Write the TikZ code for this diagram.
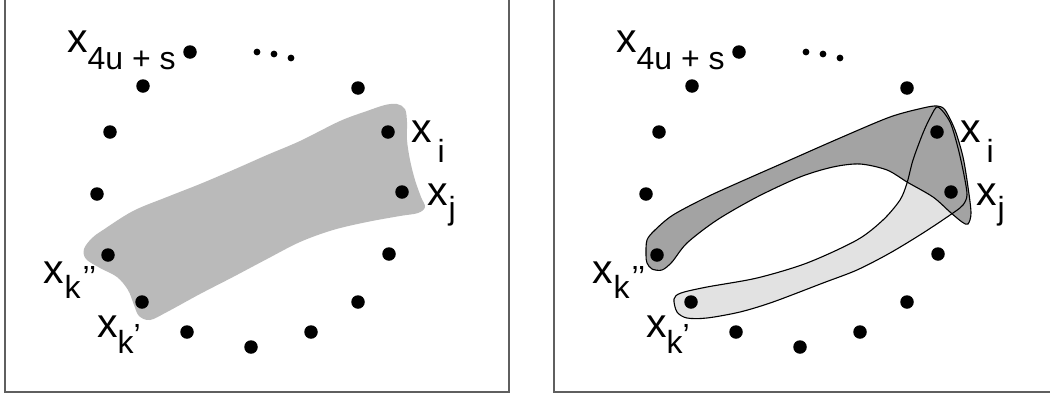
\documentclass[tikz,border=0pt]{standalone}
\usepackage{fontspec}
\setmainfont{Liberation Sans}
\usepackage{tikz}
\usetikzlibrary{positioning}

\definecolor{blobgray}{RGB}{186,186,186}
\definecolor{darkband}{RGB}{163,163,163}
\definecolor{lightband}{RGB}{226,226,226}
\definecolor{framegray}{RGB}{95,95,95}
\newcommand\subsz{\fontsize{32}{32}\selectfont}

\begin{document}
\begin{tikzpicture}[
  x=1pt, y=-1pt,
  dot/.style={circle, fill=black, inner sep=0pt, minimum size=13.5pt},
  smalldot/.style={circle, fill=black, inner sep=0pt, minimum size=6.8pt},
  lab/.style={anchor=base west, inner sep=0pt, font=\fontsize{41}{41}\selectfont},
  frame/.style={draw=framegray, line width=2pt},
  band/.style={draw=black, line width=1.1pt},
]
\useasboundingbox (0,0) rectangle (1050,394);
\clip (0,0) rectangle (1050,394);
% Frames
\draw[frame] (5,-5) -- (5,392) -- (509,392) -- (509,-5);
\draw[frame] (554,-5) -- (554,392) -- (1058,392) -- (1058,-5);
% Left: one hyperedge
\fill[blobgray] plot[smooth cycle, tension=0.55] coordinates {
  (397,104) (405,109) (407,122) (407,140) (410,160) (415,180) (421,197) (425,207)
  (418,213) (400,216) (367,222) (333,230) (300,242) (267,259) (233,277) (200,294)
  (167,312) (150,320) (139,316) (134,305) (128,290) (117,277) (100,268) (86,259)
  (84,249) (92,238) (103,230) (133,211) (167,197) (200,184) (233,170) (267,155)
  (300,141) (340,121) (367,111) (385,105)};
% Right: two overlapping hyperedges
\fill[lightband] plot[smooth cycle, tension=0.5] coordinates {
  (938,107) (950,122) (958,148) (964,175) (967,195) (963,205) (953,213) (923,233)
  (890,253) (857,270) (823,283) (773,302) (740,312) (707,318) (687,318) (677,312)
  (674,299) (681,293) (707,287) (757,278) (807,263) (857,240) (883,220) (900,200)
  (907,183) (913,160) (923,133) (931,116)};
\fill[darkband] plot[smooth cycle, tension=0.5] coordinates {
  (646,255) (647,240) (655,230) (673,215) (707,197) (740,182) (790,160) (840,138)
  (890,117) (923,108) (937,106) (945,110) (955,130) (963,157) (968,187) (971,213)
  (968,224) (962,222) (950,212) (933,197) (907,182) (887,170) (860,164) (833,167)
  (800,177) (757,197) (717,220) (687,243) (672,262) (662,270) (652,269) (647,263)};
\draw[band] plot[smooth cycle, tension=0.5] coordinates {
  (938,107) (950,122) (958,148) (964,175) (967,195) (963,205) (953,213) (923,233)
  (890,253) (857,270) (823,283) (773,302) (740,312) (707,318) (687,318) (677,312)
  (674,299) (681,293) (707,287) (757,278) (807,263) (857,240) (883,220) (900,200)
  (907,183) (913,160) (923,133) (931,116)};
\draw[band] plot[smooth cycle, tension=0.5] coordinates {
  (646,255) (647,240) (655,230) (673,215) (707,197) (740,182) (790,160) (840,138)
  (890,117) (923,108) (937,106) (945,110) (955,130) (963,157) (968,187) (971,213)
  (968,224) (962,222) (950,212) (933,197) (907,182) (887,170) (860,164) (833,167)
  (800,177) (757,197) (717,220) (687,243) (672,262) (662,270) (652,269) (647,263)};
% Vertices and labels, same in both panels
\foreach \pn/\dx in {L/0, R/549} {
  \foreach \nm/\x/\y in {s/190/52, a/143/86, b/358/88, c/110/132, i/388/132,
                         d/97/194, j/402/192, kk/108/255, e/389/254, k/142/302,
                         f/358/302, g/187/332, h/311/332, m/251/347}
    \node[dot] (\pn\nm) at (\x+\dx,\y) {};
  \node[smalldot] (\pn e1) at (257+\dx,52) {};
  \node[smalldot] (\pn e2) at (274+\dx,54) {};
  \node[smalldot] (\pn e3) at (291+\dx,58) {};
  \node[lab] (\pn ls) at (67+\dx,52) {x\raisebox{-17pt}{\subsz 4u + s}};
  \node[lab] (\pn li) at (411+\dx,142) {x\hspace{6pt}\raisebox{-20pt}{\subsz i}};
  \node[lab] (\pn lj) at (427+\dx,205) {x\hspace{1pt}\raisebox{-14pt}{\subsz j}};
  \node[lab] (\pn lkk) at (43+\dx,283) {x\hspace{1pt}\raisebox{-15pt}{\subsz k\hspace{2pt}\raisebox{10pt}{’’}}};
  \node[lab] (\pn lk) at (97+\dx,337) {x\raisebox{-16pt}{\subsz k\raisebox{7pt}{’}}};
}
\end{tikzpicture}
\end{document}
